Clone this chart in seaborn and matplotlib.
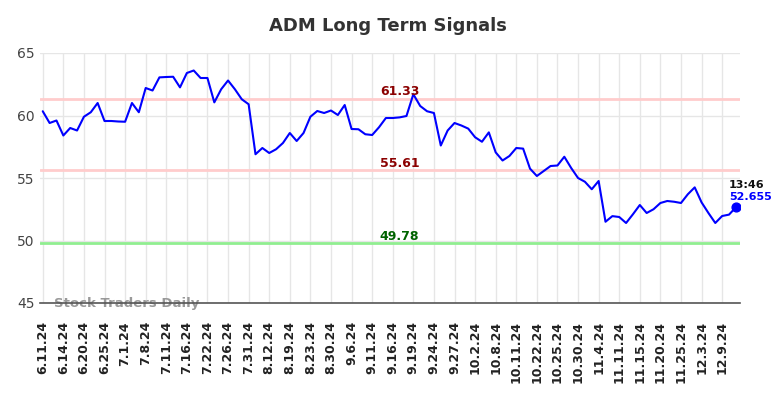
import matplotlib
matplotlib.use("Agg")
import matplotlib.pyplot as plt
import seaborn as sns
import pandas as pd
import numpy as np

tick_labels = ["6.11.24", "6.14.24", "6.20.24", "6.25.24", "7.1.24", "7.8.24", "7.11.24",
               "7.16.24", "7.22.24", "7.26.24", "7.31.24", "8.12.24", "8.19.24", "8.23.24",
               "8.30.24", "9.6.24", "9.11.24", "9.16.24", "9.19.24", "9.24.24", "9.27.24",
               "10.2.24", "10.8.24", "10.11.24", "10.22.24", "10.25.24", "10.30.24", "11.4.24",
               "11.11.24", "11.15.24", "11.20.24", "11.25.24", "12.3.24", "12.9.24"]

prices = [60.34, 59.4, 59.6, 58.4, 59.0, 58.8, 59.9, 60.26, 61.0, 59.56,
          59.56, 59.52, 59.5, 61.0, 60.26, 62.2, 62.0, 63.05, 63.08, 63.1,
          62.25, 63.4, 63.6, 63.0, 63.0, 61.05, 62.1, 62.8, 62.1, 61.3,
          60.9, 56.9, 57.4, 57.0, 57.3, 57.8, 58.6, 57.96, 58.6, 59.9,
          60.36, 60.2, 60.4, 60.04, 60.84, 58.92, 58.9, 58.5, 58.44, 59.06,
          59.8, 59.8, 59.85, 59.96, 61.7, 60.76, 60.34, 60.2, 57.6, 58.8,
          59.4, 59.2, 58.95, 58.26, 57.9, 58.65, 57.05, 56.4, 56.76, 57.4,
          57.35, 55.75, 55.16, 55.56, 55.96, 56.0, 56.7, 55.8, 55.0, 54.7,
          54.1, 54.76, 51.5, 51.95, 51.88, 51.4, 52.1, 52.84, 52.2, 52.5,
          53.0, 53.16, 53.1, 53.0, 53.7, 54.25, 53.05, 52.2, 51.4, 51.96,
          52.07, 52.655]

resistance_high = 61.33
resistance_mid = 55.61
support = 49.78
last_time = "13:46"
last_value = 52.655

df = pd.DataFrame({"idx": np.arange(len(prices)), "price": prices})

sns.set_style("white")
fig = plt.figure(figsize=(7.84, 3.98), dpi=100)
ax = fig.add_axes([40/784, 1-303/398, 700/784, 250/398])

ax.set_xlim(-0.4, len(prices) - 1 + 0.6)
ax.set_ylim(45, 65)

tick_pos = np.arange(0, len(prices), 3)[:len(tick_labels)]
ax.set_xticks(tick_pos)
ax.set_xticklabels(tick_labels, rotation=90, fontsize=9, fontweight="bold", color="#222222")
ax.set_yticks([45, 50, 55, 60, 65])
ax.set_yticklabels(["45", "50", "55", "60", "65"], fontsize=10, color="#444444")
ax.grid(True, color="#e6e6e6", linewidth=1)
ax.set_axisbelow(True)
ax.tick_params(axis="y", length=0, pad=4)
ax.tick_params(axis="x", length=0, pad=13)
for s in ["top", "right", "left"]:
    ax.spines[s].set_visible(False)
ax.spines["bottom"].set_color("#555555")
ax.spines["bottom"].set_linewidth(1.2)

ax.axhline(resistance_high, color="#ffcccc", linewidth=2, zorder=1)
ax.axhline(resistance_mid, color="#ffcccc", linewidth=2, zorder=1)
ax.axhline(support, color="#90ee90", linewidth=2, zorder=1)

sns.lineplot(data=df, x="idx", y="price", ax=ax, color="#0000ff", linewidth=1.5, zorder=3)
ax.set_xlabel("")
ax.set_ylabel("")

lx = 52
ax.text(lx, resistance_high + 0.05, f"{resistance_high:.2f}", color="#8b0000", fontsize=9,
        fontweight="bold", ha="center", va="bottom", zorder=4)
ax.text(lx, resistance_mid + 0.05, f"{resistance_mid:.2f}", color="#8b0000", fontsize=9,
        fontweight="bold", ha="center", va="bottom", zorder=4)
ax.text(lx, support + 0.05, f"{support:.2f}", color="#006400", fontsize=9,
        fontweight="bold", ha="center", va="bottom", zorder=4)

last_i = len(prices) - 1
ax.scatter([last_i], [last_value], s=40, color="#0000ff", zorder=5)
ax.text(last_i - 1, last_value + 1.4, last_time, color="#111111", fontsize=8,
        fontweight="bold", ha="left", va="bottom", zorder=5)
ax.text(last_i - 1, last_value + 0.4, f"{last_value}", color="#0000ff", fontsize=8,
        fontweight="bold", ha="left", va="bottom", zorder=5)

ax.text(1.7, 45.0, "Stock Traders Daily", color="#999999", fontsize=9.5,
        fontweight="bold", ha="left", va="center", zorder=2)

fig.suptitle("ADM Long Term Signals", fontsize=13, fontweight="bold", color="#333333",
             x=388/784, y=1-26/398, va="center")

fig.savefig("out.png", dpi=100)
